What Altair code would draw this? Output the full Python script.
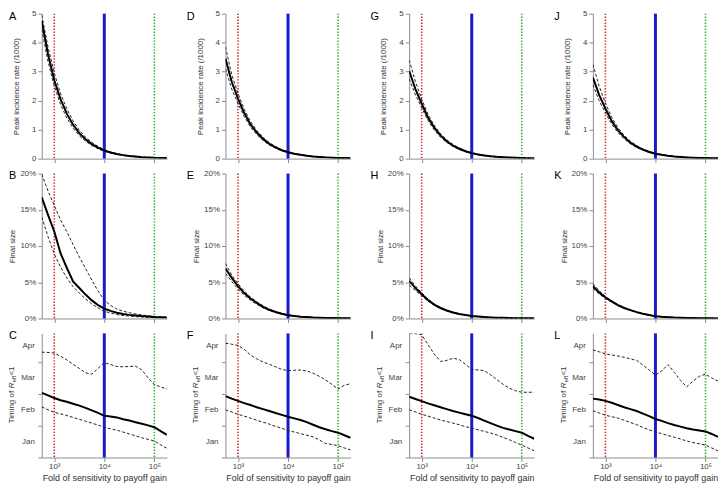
import altair as alt
import pandas as pd

FONT = "Liberation Sans"

# log10 of fold of sensitivity to payoff gain (grid of the simulations)
EXP = [2.75, 2.875, 3.0, 3.125, 3.25, 3.375, 3.5, 3.625, 3.75, 3.875, 4.0,
       4.125, 4.25, 4.375, 4.5, 4.625, 4.75, 4.875, 5.0, 5.125, 5.25]
FOLD = [10 ** e for e in EXP]

REF_LOW = 1000
REF_MID = 10000
REF_HIGH = 100000
X_TICKS = [1000, 10000, 100000]

# Row 1: peak incidence rate (/1000)
A_MEAN = [4.75, 3.6, 2.7, 2.05, 1.55, 1.17, 0.88, 0.67, 0.5, 0.38, 0.28, 0.21, 0.16, 0.12, 0.09, 0.07, 0.05, 0.04, 0.03, 0.025, 0.02]
A_UP = [4.95, 3.85, 2.95, 2.25, 1.72, 1.3, 0.98, 0.74, 0.56, 0.42, 0.31, 0.23, 0.17, 0.13, 0.1, 0.075, 0.055, 0.043, 0.033, 0.027, 0.022]
A_LO = [4.45, 3.35, 2.5, 1.87, 1.4, 1.05, 0.79, 0.6, 0.45, 0.34, 0.25, 0.19, 0.14, 0.11, 0.08, 0.06, 0.045, 0.035, 0.027, 0.022, 0.018]

D_MEAN = [3.45, 2.65, 2.07, 1.57, 1.18, 0.9, 0.68, 0.51, 0.39, 0.29, 0.22, 0.17, 0.13, 0.1, 0.075, 0.057, 0.043, 0.033, 0.025, 0.02, 0.016]
D_UP = [3.85, 2.9, 2.25, 1.7, 1.28, 0.97, 0.73, 0.55, 0.42, 0.31, 0.235, 0.18, 0.14, 0.105, 0.08, 0.06, 0.045, 0.035, 0.027, 0.021, 0.017]
D_LO = [3.1, 2.4, 1.9, 1.45, 1.09, 0.83, 0.63, 0.47, 0.36, 0.27, 0.205, 0.16, 0.12, 0.09, 0.07, 0.053, 0.04, 0.031, 0.024, 0.019, 0.015]

G_MEAN = [3.02, 2.4, 1.9, 1.42, 1.07, 0.8, 0.6, 0.45, 0.34, 0.255, 0.19, 0.145, 0.11, 0.083, 0.063, 0.048, 0.036, 0.028, 0.021, 0.016, 0.013]
G_UP = [3.4, 2.65, 2.05, 1.53, 1.15, 0.86, 0.65, 0.49, 0.37, 0.275, 0.205, 0.155, 0.117, 0.088, 0.067, 0.05, 0.038, 0.029, 0.022, 0.017, 0.013]
G_LO = [2.75, 2.2, 1.75, 1.32, 0.99, 0.74, 0.56, 0.42, 0.315, 0.237, 0.178, 0.135, 0.103, 0.078, 0.059, 0.045, 0.034, 0.026, 0.02, 0.015, 0.012]

J_MEAN = [2.8, 2.2, 1.73, 1.3, 0.98, 0.74, 0.55, 0.415, 0.31, 0.23, 0.17, 0.13, 0.098, 0.074, 0.056, 0.042, 0.032, 0.024, 0.018, 0.014, 0.011]
J_UP = [3.25, 2.5, 1.92, 1.43, 1.07, 0.8, 0.6, 0.45, 0.335, 0.25, 0.185, 0.14, 0.105, 0.08, 0.06, 0.045, 0.034, 0.026, 0.019, 0.015, 0.012]
J_LO = [2.55, 2.0, 1.58, 1.19, 0.9, 0.68, 0.51, 0.385, 0.29, 0.215, 0.16, 0.122, 0.092, 0.07, 0.053, 0.04, 0.03, 0.023, 0.017, 0.013, 0.01]

# Row 2: final size (%)
B_MEAN = [16.7, 14.3, 12.0, 9.0, 7.0, 5.1, 4.2, 3.3, 2.5, 1.85, 1.35, 1.05, 0.8, 0.62, 0.5, 0.42, 0.33, 0.26, 0.2, 0.16, 0.13]
B_UP = [19.9, 17.6, 15.6, 13.6, 12.0, 10.2, 8.5, 6.9, 5.3, 3.8, 2.5, 1.8, 1.3, 1.0, 0.8, 0.62, 0.48, 0.37, 0.28, 0.22, 0.18]
B_LO = [14.0, 11.3, 8.9, 7.1, 5.6, 4.4, 3.5, 2.7, 2.0, 1.45, 1.0, 0.75, 0.55, 0.42, 0.33, 0.26, 0.2, 0.15, 0.12, 0.1, 0.08]

E_MEAN = [6.9, 5.6, 4.45, 3.5, 2.75, 2.15, 1.6, 1.2, 0.9, 0.65, 0.45, 0.34, 0.25, 0.19, 0.14, 0.11, 0.08, 0.06, 0.05, 0.04, 0.03]
E_UP = [7.6, 6.0, 4.8, 3.8, 2.95, 2.3, 1.75, 1.3, 0.97, 0.7, 0.5, 0.37, 0.27, 0.2, 0.15, 0.12, 0.09, 0.07, 0.055, 0.045, 0.035]
E_LO = [6.2, 5.1, 4.1, 3.2, 2.5, 1.95, 1.48, 1.1, 0.82, 0.6, 0.42, 0.31, 0.23, 0.17, 0.13, 0.1, 0.075, 0.055, 0.045, 0.035, 0.028]

H_MEAN = [5.2, 4.2, 3.35, 2.55, 1.92, 1.45, 1.1, 0.83, 0.62, 0.47, 0.35, 0.27, 0.2, 0.15, 0.115, 0.087, 0.066, 0.05, 0.038, 0.029, 0.022]
H_UP = [5.6, 4.5, 3.55, 2.7, 2.03, 1.53, 1.16, 0.87, 0.65, 0.49, 0.37, 0.28, 0.21, 0.16, 0.12, 0.09, 0.069, 0.052, 0.04, 0.03, 0.023]
H_LO = [4.6, 3.85, 3.15, 2.4, 1.82, 1.38, 1.04, 0.79, 0.59, 0.45, 0.33, 0.25, 0.19, 0.145, 0.11, 0.083, 0.063, 0.048, 0.036, 0.027, 0.021]

K_MEAN = [4.45, 3.6, 2.9, 2.35, 1.85, 1.45, 1.15, 0.88, 0.66, 0.47, 0.32, 0.24, 0.18, 0.13, 0.1, 0.075, 0.055, 0.04, 0.03, 0.022, 0.016]
K_UP = [4.8, 3.85, 3.05, 2.45, 1.93, 1.51, 1.2, 0.92, 0.69, 0.49, 0.34, 0.25, 0.19, 0.14, 0.105, 0.078, 0.058, 0.042, 0.031, 0.023, 0.017]
K_LO = [4.15, 3.4, 2.75, 2.25, 1.78, 1.4, 1.1, 0.84, 0.63, 0.45, 0.31, 0.23, 0.17, 0.125, 0.095, 0.07, 0.052, 0.038, 0.028, 0.021, 0.015]

# Row 3: timing of Reff<1 (months after 1 January)
C_MEAN = [2.03, 1.95, 1.87, 1.8, 1.75, 1.69, 1.63, 1.56, 1.48, 1.4, 1.31, 1.29, 1.26, 1.2, 1.16, 1.11, 1.06, 1.01, 0.95, 0.83, 0.71]
C_UP = [3.31, 3.3, 3.28, 3.18, 3.07, 2.93, 2.8, 2.66, 2.62, 2.8, 2.98, 2.92, 2.86, 2.85, 2.86, 2.87, 2.75, 2.5, 2.29, 2.22, 2.15]
C_LO = [1.59, 1.5, 1.42, 1.37, 1.32, 1.26, 1.2, 1.14, 1.08, 1.02, 0.95, 0.9, 0.86, 0.8, 0.74, 0.68, 0.62, 0.57, 0.52, 0.4, 0.29]

F_MEAN = [1.93, 1.85, 1.78, 1.71, 1.65, 1.58, 1.52, 1.46, 1.4, 1.34, 1.28, 1.23, 1.18, 1.11, 1.03, 0.95, 0.89, 0.83, 0.78, 0.7, 0.62]
F_UP = [3.59, 3.56, 3.52, 3.4, 3.22, 3.1, 3.0, 2.93, 2.85, 2.77, 2.73, 2.74, 2.75, 2.72, 2.65, 2.55, 2.44, 2.3, 2.15, 2.27, 2.32]
F_LO = [1.5, 1.43, 1.36, 1.3, 1.24, 1.17, 1.11, 1.05, 0.98, 0.92, 0.85, 0.8, 0.75, 0.7, 0.65, 0.55, 0.44, 0.41, 0.37, 0.3, 0.24]

I_MEAN = [1.91, 1.84, 1.77, 1.7, 1.64, 1.58, 1.52, 1.46, 1.41, 1.36, 1.31, 1.24, 1.16, 1.08, 1.0, 0.93, 0.88, 0.83, 0.78, 0.68, 0.59]
I_UP = [3.9, 3.89, 3.86, 3.55, 3.25, 3.02, 3.05, 3.12, 3.08, 2.93, 2.77, 2.75, 2.73, 2.6, 2.45, 2.3, 2.18, 2.1, 2.05, 2.05, 2.05]
I_LO = [1.5, 1.43, 1.36, 1.3, 1.24, 1.18, 1.13, 1.08, 1.03, 0.97, 0.92, 0.87, 0.82, 0.77, 0.71, 0.63, 0.56, 0.47, 0.39, 0.3, 0.21]

L_MEAN = [1.85, 1.82, 1.78, 1.72, 1.65, 1.58, 1.52, 1.46, 1.38, 1.3, 1.21, 1.15, 1.08, 1.02, 0.97, 0.92, 0.88, 0.85, 0.82, 0.74, 0.65]
L_UP = [3.38, 3.32, 3.26, 3.22, 3.19, 3.15, 3.1, 3.05, 2.9, 2.75, 2.59, 2.72, 2.92, 2.68, 2.42, 2.22, 2.4, 2.55, 2.62, 2.5, 2.4]
L_LO = [1.47, 1.4, 1.33, 1.28, 1.24, 1.17, 1.1, 1.03, 0.94, 0.87, 0.8, 0.75, 0.69, 0.64, 0.58, 0.52, 0.47, 0.43, 0.39, 0.3, 0.21]

MONTHS = ["Jan", "Feb", "Mar", "Apr"]
MONTH_MID = [0.5, 1.5, 2.5, 3.5]
MONTH_START = [0, 1, 2, 3]

PANELS = [
    [("A", A_MEAN, A_LO, A_UP), ("D", D_MEAN, D_LO, D_UP), ("G", G_MEAN, G_LO, G_UP), ("J", J_MEAN, J_LO, J_UP)],
    [("B", B_MEAN, B_LO, B_UP), ("E", E_MEAN, E_LO, E_UP), ("H", H_MEAN, H_LO, H_UP), ("K", K_MEAN, K_LO, K_UP)],
    [("C", C_MEAN, C_LO, C_UP), ("F", F_MEAN, F_LO, F_UP), ("I", I_MEAN, I_LO, I_UP), ("L", L_MEAN, L_LO, L_UP)],
]

W = 126
HEIGHTS = [146, 146, 125]

SUP = "datum.value == 1000 ? '10\u00b3' : datum.value == 10000 ? '10\u2074' : '10\u2075'"


def x_enc(row):
    last = row == 2
    axis = alt.Axis(values=X_TICKS, labels=last, labelExpr=SUP,
                    title="Fold of sensitivity to payoff gain" if last else None,
                    titleFontSize=9, titlePadding=3, labelPadding=1,
                    labelFontSize=8)
    return alt.X("fold:Q", scale=alt.Scale(type="log", domain=[10 ** 2.75, 10 ** 5.25], nice=False),
                 axis=axis)


def y_enc(row, field="value"):
    if row == 0:
        scale = alt.Scale(domain=[0, 5], nice=False)
        axis = alt.Axis(values=[0, 1, 2, 3, 4, 5], format="d", title="Peak incidence rate (/1000)",
                        titlePadding=11)
    elif row == 1:
        scale = alt.Scale(domain=[0, 20], nice=False)
        axis = alt.Axis(values=[0, 5, 10, 15, 20], labelExpr="datum.value + '%'", title="Final size",
                        titlePadding=3)
    else:
        scale = alt.Scale(domain=[0, 3.9], nice=False)
        axis = alt.Axis(values=MONTH_START, labels=False, title=None)
    return alt.Y(f"{field}:Q", scale=scale, axis=axis)


def panel(row, col, letter, mean, lo, up):
    h = HEIGHTS[row]
    df = pd.DataFrame({"fold": FOLD, "mean": mean, "lower": lo, "upper": up})
    base = alt.Chart(df)
    xe = x_enc(row)

    def rule(xval, color, width, dash):
        kw = dict(color=color, strokeWidth=width)
        if dash:
            kw["strokeDash"] = dash
        return alt.Chart(pd.DataFrame({"fold": [xval]})).mark_rule(**kw).encode(x=xe)

    r1 = rule(REF_LOW, "#d42a2a", 1.6, [1.4, 1.6])
    r2 = rule(REF_MID, "#1a1acc", 3, None)
    r3 = rule(REF_HIGH, "#2fb52f", 1.6, [1.4, 1.6])

    bounds = base.transform_fold(["lower", "upper"], as_=["series", "value"]).mark_line(
        color="#222222", strokeWidth=1, strokeDash=[3, 2], clip=True
    ).encode(x=xe, y=y_enc(row), detail="series:N")

    mline = base.transform_calculate(value="datum.mean").mark_line(
        color="black", strokeWidth=2, clip=True
    ).encode(x=xe, y=y_enc(row))

    lx = -33 if col == 0 else -39
    letter_t = alt.Chart(pd.DataFrame({"t": [letter]})).mark_text(
        align="left", baseline="alphabetic", fontSize=11, color="black", font=FONT
    ).encode(text="t:N", x=alt.value(lx), y=alt.value(6))

    layers = [r1, r2, r3, bounds, mline, letter_t]

    if row == 2:
        mdf = pd.DataFrame({"month": MONTHS, "mid": MONTH_MID})
        mlab = alt.Chart(mdf).mark_text(
            align="right", baseline="middle", fontSize=8, color="#444444", font=FONT
        ).encode(text="month:N", x=alt.value(-7), y=y_enc(row, "mid"))
        layers.append(mlab)
        y0 = h / 2 + 28
        xt = -29.5
        segs = [("Timing of ", y0, 8, "normal", xt),
                ("R", y0 - 35.3, 8, "italic", xt),
                ("eff", y0 - 41.2, 6, "normal", xt + 2),
                ("<1", y0 - 48.0, 8, "normal", xt)]
        for txt, yy, fs, style, xx in segs:
            layers.append(
                alt.Chart(pd.DataFrame({"t": [txt]})).mark_text(
                    align="left", baseline="middle", angle=270, fontSize=fs,
                    fontStyle=style, color="#333333", font=FONT
                ).encode(text="t:N", x=alt.value(xx), y=alt.value(yy))
            )

    return alt.layer(*layers).properties(width=W, height=h)


cells = []
for r, row_panels in enumerate(PANELS):
    for c, p in enumerate(row_panels):
        cells.append(panel(r, c, *p))

chart = alt.concat(*cells, columns=4, spacing={"row": 15, "column": 59}, bounds="flush").properties(
    padding=0
).configure_view(
    stroke=None
).configure_axis(
    grid=False, domainColor="#8c8c8c", tickColor="#8c8c8c", tickSize=4,
    labelColor="#444444", titleColor="#333333", labelFont=FONT, titleFont=FONT,
    labelFontSize=8, titleFontSize=8, titleFontWeight="normal", labelPadding=2
).configure_text(font=FONT)

chart.save("out.html", embed_options={"renderer": "svg", "actions": False})
